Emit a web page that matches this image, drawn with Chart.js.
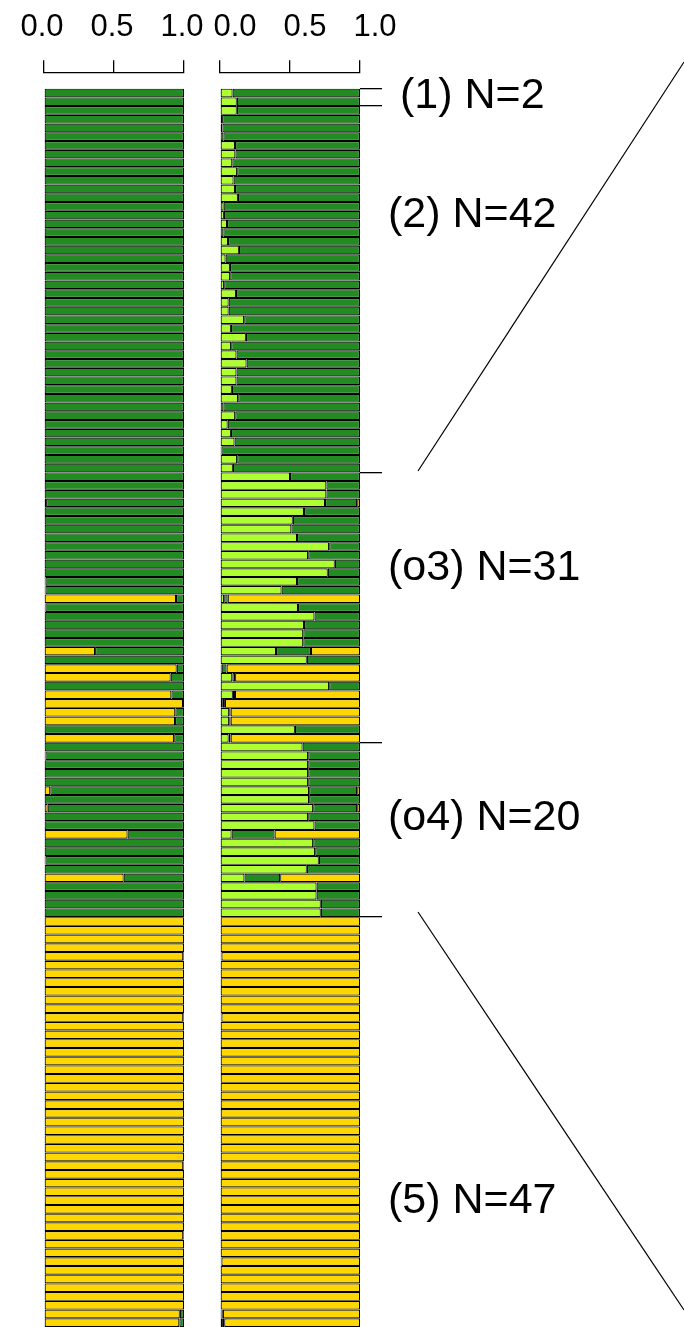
<!DOCTYPE html>
<html>
<head>
<meta charset="utf-8">
<script src="https://cdn.jsdelivr.net/npm/chart.js@4.4.1/dist/chart.umd.min.js"></script>
<style>
html, body { margin: 0; padding: 0; background: #fff; }
body { width: 684px; height: 1327px; position: relative; overflow: hidden; font-family: "Liberation Sans", Arial, sans-serif; }
.panel { position: absolute; top: -5px; height: 1332px; }
#p1 { left: 0; width: 230px; }
#p2 { left: 176px; width: 240px; }
.lbl { position: absolute; font-size: 43px; line-height: 43px; color: #000; white-space: nowrap; }
svg { position: absolute; left: 0; top: 0; }
</style>
</head>
<body>
<div class="panel" id="p1"><canvas id="chartK2"></canvas></div>
<div class="panel" id="p2"><canvas id="chartK3"></canvas></div>

<svg width="684" height="1327">
  <line x1="684" y1="62" x2="418" y2="471" stroke="#000" stroke-width="1.2"/>
  <line x1="418" y1="912" x2="684" y2="1310" stroke="#000" stroke-width="1.2"/>
</svg>

<div class="lbl" style="left:400px; top:72px;">(1) N=2</div>
<div class="lbl" style="left:388px; top:191px;">(2) N=42</div>
<div class="lbl" style="left:388px; top:544px;">(o3) N=31</div>
<div class="lbl" style="left:388px; top:794px;">(o4) N=20</div>
<div class="lbl" style="left:388px; top:1177px;">(5) N=47</div>

<script>
// group sizes, top to bottom
const groupNames = ["(1)", "(2)", "(o3)", "(o4)", "(5)"];
const groupSizes = [2, 42, 31, 20, 47];

// K = 2 (left panel): ancestry proportions per individual
const k2Gold = [
    // (1)
    0, 0,
    // (2)
    0, 0, 0, 0, 0, 0, 0, 0, 0, 0, 0, 0, 0, 0, 0, 0, 0, 0, 0, 0, 0,
    0, 0, 0, 0, 0, 0, 0, 0, 0, 0, 0, 0, 0, 0, 0, 0, 0, 0, 0, 0, 0,
    // (o3)
    0, 0, 0, 0.015, 0, 0, 0, 0, 0, 0, 0, 0, 0.01, 0.01, 0.943, 0.01,
    0, 0, 0, 0, 0.365, 0, 0.948, 0.905, 0, 0.91, 0.993, 0.938, 0.936, 0, 0.93,
    // (o4)
    0, 0.01, 0, 0, 0, 0.045, 0, 0.026, 0, 0, 0.597, 0, 0, 0.01, 0, 0.569, 0, 0, 0, 0,
    // (5)
    1, 1, 1, 1, 0.995, 1, 1, 1, 1, 1, 1, 0.995, 1, 1, 1, 1, 1, 1, 1, 1, 1, 1, 1, 1,
    1, 1, 1, 1, 0.995, 1, 1, 1, 1, 1, 1, 1, 0.995, 1, 1, 1, 1, 1, 1, 1, 1, 0.97, 0.967
];
const k2Green = [
    // (1)
    1, 1,
    // (2)
    1, 1, 1, 1, 1, 1, 1, 1, 1, 1, 1, 1, 1, 1, 1, 1, 1, 1, 1, 1, 1,
    1, 1, 1, 1, 1, 1, 1, 1, 1, 1, 1, 1, 1, 1, 1, 1, 1, 1, 1, 1, 1,
    // (o3)
    1, 1, 1, 0.985, 1, 1, 1, 1, 1, 1, 1, 1, 0.99, 0.99, 0.057, 0.99,
    1, 1, 1, 1, 0.635, 1, 0.052, 0.095, 1, 0.09, 0.007, 0.062, 0.064, 1, 0.07,
    // (o4)
    1, 0.99, 1, 1, 1, 0.955, 1, 0.974, 1, 1, 0.403, 1, 1, 0.99, 1, 0.431, 1, 1, 1, 1,
    // (5)
    0, 0, 0, 0, 0.005, 0, 0, 0, 0, 0, 0, 0.005, 0, 0, 0, 0, 0, 0, 0, 0, 0, 0, 0, 0,
    0, 0, 0, 0, 0.005, 0, 0, 0, 0, 0, 0, 0, 0.005, 0, 0, 0, 0, 0, 0, 0, 0, 0.03, 0.033
];

// K = 3 (right panel)
const k3Light = [
    // (1)
    0.09, 0.12,
    // (2)
    0.12, 0.015, 0.017, 0.024, 0.107, 0.11, 0.088, 0.123, 0.097, 0.107, 0.128, 0.026, 0.028, 0.05,
    0.024, 0.057, 0.135, 0.04, 0.071, 0.073, 0.03, 0.114, 0.062, 0.062, 0.173, 0.078, 0.185, 0.08,
    0.118, 0.19, 0.118, 0.118, 0.085, 0.13, 0.024, 0.109, 0.055, 0.078, 0.104, 0.01, 0.123, 0.092,
    // (o3)
    0.50, 0.76, 0.76, 0.75, 0.60, 0.52, 0.51, 0.55, 0.78, 0.63, 0.82, 0.77, 0.55, 0.44, 0.03, 0.557,
    0.675, 0.60, 0.595, 0.595, 0.40, 0.62, 0.012, 0.088, 0.78, 0.092, 0.02, 0.066, 0.066, 0.535, 0.062,
    // (o4)
    0.59, 0.63, 0.63, 0.63, 0.63, 0.637, 0.637, 0.666, 0.63, 0.675, 0.083, 0.666, 0.68, 0.706, 0.62,
    0.175, 0.69, 0.69, 0.72, 0.72,
    // (5)
    0, 0, 0, 0, 0.005, 0, 0, 0, 0, 0, 0, 0.005, 0, 0, 0, 0, 0, 0, 0, 0, 0, 0, 0, 0,
    0, 0, 0, 0, 0, 0, 0, 0, 0, 0, 0, 0, 0, 0, 0, 0.005, 0, 0, 0, 0, 0, 0.01, 0.015
];
const k3Green = [
    // (1)
    0.91, 0.88,
    // (2)
    0.88, 0.985, 0.983, 0.976, 0.893, 0.89, 0.912, 0.877, 0.903, 0.893, 0.872, 0.974, 0.972, 0.95,
    0.976, 0.943, 0.865, 0.96, 0.929, 0.927, 0.97, 0.886, 0.938, 0.938, 0.827, 0.922, 0.815, 0.92,
    0.882, 0.81, 0.882, 0.882, 0.915, 0.87, 0.976, 0.891, 0.945, 0.922, 0.896, 0.99, 0.877, 0.908,
    // (o3)
    0.50, 0.24, 0.24, 0.23, 0.40, 0.48, 0.49, 0.45, 0.22, 0.37, 0.18, 0.23, 0.45, 0.56, 0.025, 0.443,
    0.325, 0.40, 0.405, 0.405, 0.25, 0.38, 0.035, 0.02, 0.22, 0.015, 0.015, 0.01, 0.01, 0.465, 0.014,
    // (o4)
    0.41, 0.37, 0.37, 0.37, 0.37, 0.343, 0.363, 0.314, 0.37, 0.325, 0.307, 0.334, 0.32, 0.294, 0.38,
    0.255, 0.31, 0.31, 0.28, 0.28,
    // (5)
    0, 0, 0, 0, 0.005, 0, 0, 0, 0, 0, 0, 0.005, 0, 0, 0, 0, 0, 0, 0, 0, 0, 0, 0, 0,
    0, 0, 0, 0, 0, 0, 0, 0, 0, 0, 0, 0, 0, 0, 0, 0.005, 0, 0, 0, 0, 0, 0.01, 0.015
];
const k3Gold = [
    // (1)
    0, 0,
    // (2)
    0, 0, 0, 0, 0, 0, 0, 0, 0, 0, 0, 0, 0, 0, 0, 0, 0, 0, 0, 0, 0,
    0, 0, 0, 0, 0, 0, 0, 0, 0, 0, 0, 0, 0, 0, 0, 0, 0, 0, 0, 0, 0,
    // (o3)
    0, 0, 0, 0.02, 0, 0, 0, 0, 0, 0, 0, 0, 0, 0, 0.945, 0,
    0, 0, 0, 0, 0.35, 0, 0.953, 0.892, 0, 0.893, 0.965, 0.924, 0.924, 0, 0.924,
    // (o4)
    0, 0, 0, 0, 0, 0.02, 0, 0.02, 0, 0, 0.61, 0, 0, 0, 0, 0.57, 0, 0, 0, 0,
    // (5)
    1, 1, 1, 1, 0.99, 1, 1, 1, 1, 1, 1, 0.99, 1, 1, 1, 1, 1, 1, 1, 1, 1, 1, 1, 1,
    1, 1, 1, 1, 1, 1, 1, 1, 1, 1, 1, 1, 1, 1, 1, 0.99, 1, 1, 1, 1, 1, 0.98, 0.97
];

const xTicks = [0, 0.5, 1];

const GOLD = "#FFD700";
const GREEN = "#228B22";
const LIGHT = "#ADFF2F";

Chart.defaults.font.family = "'Liberation Sans', Arial, sans-serif";
Chart.defaults.color = "#000";

// row index of every individual, and the borders between groups
const rowIds = k2Gold.map((_, i) => i);
const groupEdges = [-0.5];
groupSizes.forEach(n => groupEdges.push(groupEdges[groupEdges.length - 1] + n));
groupEdges.pop(); // last edge sits below the picture

function makeOptions(withBrackets, labelShift) {
    return {
        indexAxis: "y",
        responsive: true,
        maintainAspectRatio: false,
        animation: false,
        layout: { padding: { left: 44, right: withBrackets ? 34 : 46, top: 0, bottom: 0 } },
        plugins: { legend: { display: false }, tooltip: { enabled: false } },
        datasets: {
            bar: {
                barPercentage: 1,
                categoryPercentage: 1,
                inflateAmount: 0,
                borderColor: "#000",
                borderWidth: 1.15,
                borderSkipped: false
            }
        },
        scales: {
            x: {
                position: "top",
                stacked: true,
                min: 0,
                max: 1,
                afterBuildTicks: ax => { ax.ticks = xTicks.map(v => ({ value: v })); },
                ticks: { padding: 14, maxRotation: 0, labelOffset: labelShift, font: { size: 31 }, callback: v => v.toFixed(1) },
                grid: { drawOnChartArea: false, drawTicks: true, tickLength: 12, color: "#000", lineWidth: 1.3 },
                border: { display: true, color: "#000", width: 1.3 }
            },
            y: {
                type: "linear",
                stacked: true,
                reverse: true,
                offset: false,
                min: -2.39,
                max: 141.5,
                display: withBrackets,
                position: "right",
                afterBuildTicks: ax => { ax.ticks = groupEdges.map(v => ({ value: v })); },
                ticks: { display: false },
                grid: { offset: false, drawOnChartArea: false, drawTicks: true, tickLength: 22, color: "#000", lineWidth: 1.3 },
                border: { display: false }
            }
        }
    };
}

new Chart(document.getElementById("chartK2"), {
    type: "bar",
    data: {
        labels: rowIds,
        datasets: [
            { label: "gold", data: k2Gold, backgroundColor: GOLD },
            { label: "green", data: k2Green, backgroundColor: GREEN }
        ]
    },
    options: makeOptions(false, -2)
});

new Chart(document.getElementById("chartK3"), {
    type: "bar",
    data: {
        labels: rowIds,
        datasets: [
            { label: "light", data: k3Light, backgroundColor: LIGHT },
            { label: "green", data: k3Green, backgroundColor: GREEN },
            { label: "gold", data: k3Gold, backgroundColor: GOLD }
        ]
    },
    options: makeOptions(true, 15)
});
</script>
</body>
</html>
